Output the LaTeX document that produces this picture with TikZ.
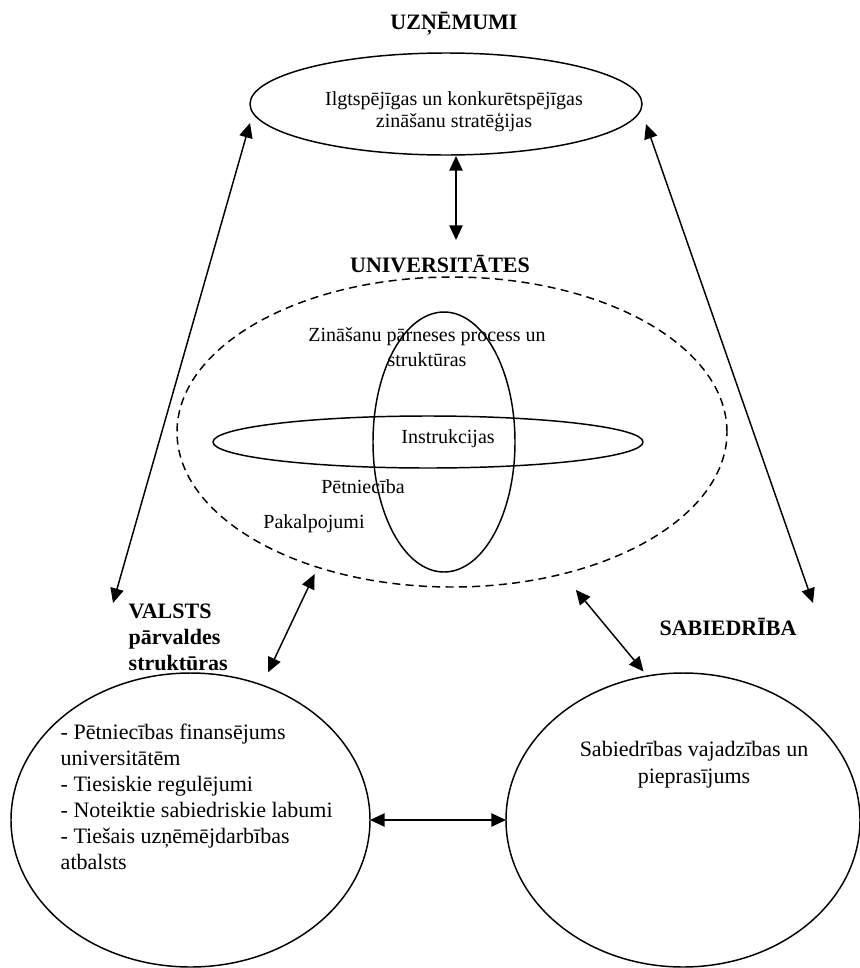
\documentclass[tikz,border=0pt]{standalone}
\usepackage{fontspec}
\setmainfont{Liberation Serif}
\usetikzlibrary{shapes.geometric,arrows.meta}
\begin{document}
\begin{tikzpicture}[x=0.75pt,y=-0.75pt,
  line width=1.1pt,
  oval/.style={draw,ellipse,inner sep=0pt,outer sep=0pt},
  link/.style={{Triangle[length=11pt,width=10pt]}-{Triangle[length=11pt,width=10pt]}},
  txt/.style={inner sep=0pt},
  heading/.style={txt,font=\fontsize{16.5}{19.5}\selectfont\bfseries},
  smalltxt/.style={txt,font=\fontsize{15}{16.5}\selectfont},
  bigtxt/.style={txt,font=\fontsize{16.5}{19.5}\selectfont},
]
\useasboundingbox (0,0) rectangle (860,968);

% enterprises
\node[heading, anchor=base] (uznTitle) at (454,29) {UZŅĒMUMI};
\node[oval, minimum width=294pt, minimum height=76.5pt] (uzn) at (446,104) {};
\node[smalltxt, align=center] (uznText) at (454,112) {Ilgtspējīgas un konkurētspējīgas\\zināšanu stratēģijas};

% universities
\node[heading, anchor=base] (univTitle) at (440,272) {UNIVERSITĀTES};
\node[oval, dash pattern=on 6pt off 4pt, minimum width=412.5pt, minimum height=232.5pt] (univ) at (452,432) {};
\node[oval, minimum width=106.5pt, minimum height=195pt] (transfer) at (444,442) {};
\node[oval, minimum width=322.5pt, minimum height=39pt] (teach) at (428,442) {};
\node[txt, font=\fontsize{15}{18.75}\selectfont, align=center] (transferText) at (427,347) {Zināšanu pārneses process un\\struktūras};
\node[smalltxt, anchor=base] (teachText) at (448,443) {Instrukcijas};
\node[smalltxt, anchor=base] (research) at (363,493) {Pētniecība};
\node[smalltxt, anchor=base] (services) at (314,528) {Pakalpojumi};

% government
\node[heading, align=left, anchor=north west] (valsts) at (128,603) {VALSTS\\pārvaldes\\struktūras};
\node[oval, minimum width=269.25pt, minimum height=220.5pt] (govt) at (190.5,820) {};
\node[bigtxt, align=left, anchor=north west] (govtText) at (60,723) {- Pētniecības finansējums\\universitātēm\\- Tiesiskie regulējumi\\- Noteiktie sabiedriskie labumi\\- Tiešais uzņēmējdarbības\\atbalsts};

% society
\node[heading, anchor=base] (sabTitle) at (728,635) {SABIEDRĪBA};
\node[oval, minimum width=265.5pt, minimum height=220.5pt] (soc) at (683,820) {};
\node[txt, font=\fontsize{16.5}{20.25}\selectfont, align=center, anchor=north] (socText) at (694,740) {Sabiedrības vajadzības un\\pieprasījums};

% free ends of the long connectors
\coordinate (vTip) at (113,603);
\coordinate (sTip) at (813,603);

% connectors
\draw[link] ([shift={(10,1)}]uzn.south) -- ([shift={(16,-14)}]univTitle.north);
\draw[link] ([shift={(0,19)}]uzn.west) -- (vTip);
\draw[link] ([shift={(4,20)}]uzn.east) -- (sTip);
\draw[link] ([shift={(-6,6)}]univ.226.6) -- ([shift={(6,-13)}]govt.62);
\draw[link] ([shift={(13,16)}]univ.308.3) -- ([shift={(-1,-5)}]soc.105.5);
\draw[link] (govt.east) -- (soc.west);
\end{tikzpicture}
\end{document}
